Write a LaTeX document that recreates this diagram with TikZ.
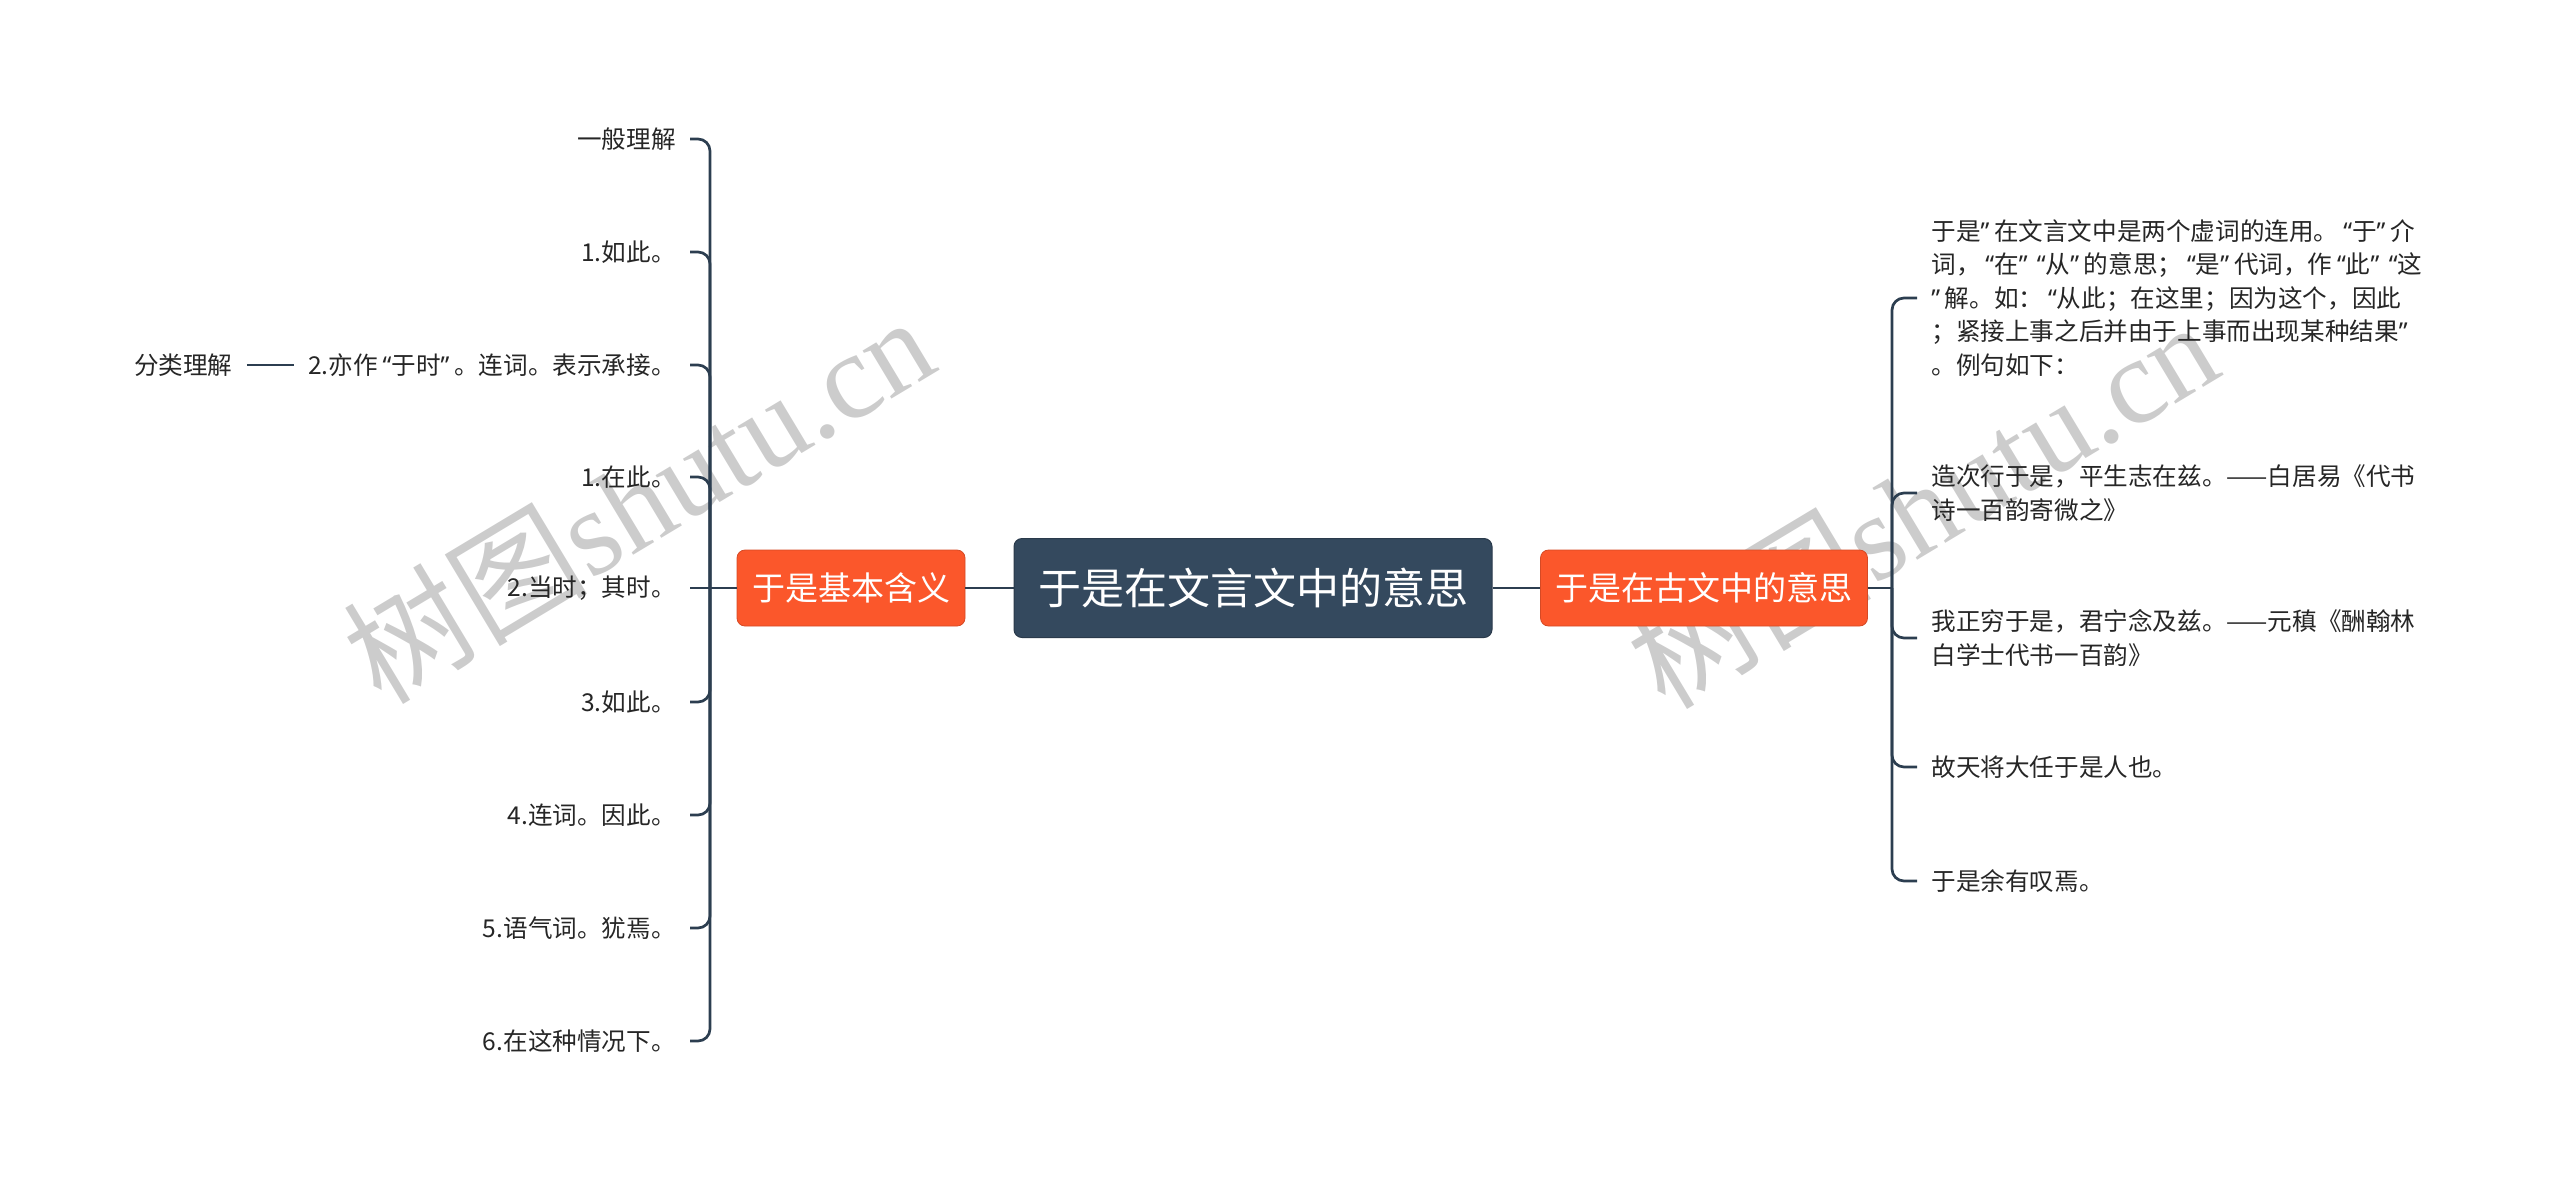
\documentclass[tikz,border=0pt]{standalone}
\usepackage{fontspec}
\setmainfont{Noto Sans CJK SC}
\newfontfamily\marklatin{Liberation Serif}
\newfontfamily\qf{Noto Sans}
\newcommand\oq{\makebox[0.55em][r]{\qf “}}
\newcommand\cq{\makebox[0.55em][l]{\qf ”}}

\begin{document}
\begin{tikzpicture}[x=0.5pt, y=-0.5pt]
    % Define colours
    \definecolor{rootfill}{RGB}{52,73,94}
    \definecolor{mainfill}{RGB}{251,87,43}
    \definecolor{linecol}{RGB}{44,62,80}

    % Styling
    \tikzset{
        c_root/.style={fill=rootfill, draw=rootfill!80!black, line width=0.5pt, rounded corners=4pt, text=white, font=\fontsize{21.5}{26}\selectfont, minimum width=239pt, minimum height=49.5pt, inner sep=0pt},
        c_main/.style={fill=mainfill, draw=mainfill!85!black, line width=0.4pt, rounded corners=4pt, text=white, font=\fontsize{16.5}{20}\selectfont, minimum height=38pt, inner xsep=7.5pt},
        c_leaf/.style={text=black!85, font=\fontsize{12.3}{16.75}\selectfont, inner xsep=7pt, inner ysep=2pt},
        c_branch/.style={draw=linecol, line width=1.35pt, rounded corners=6pt},
        c_mark/.style={text=black!20, font=\fontsize{61}{61}\selectfont, rotate=31, inner sep=0pt}
    }

    \useasboundingbox (0,0) rectangle (2560,1179);

    % Watermarks
    \node[c_mark] (wm1) at (638,498) {树图\marklatin shutu.cn};
    \node[c_mark] (wm2) at (1922,503) {树图\marklatin shutu.cn};

    % Central topics
    \node[c_root] (root) at (1253,588) {于是在文言文中的意思};
    \node[c_main] (lmain) at (851,588) {于是基本含义};
    \node[c_main] (rmain) at (1704,588) {于是在古文中的意思};

    % Spine points
    \coordinate (lspine) at (710,588);
    \coordinate (rspine) at (1892,588);

    % Left leaves
    \foreach \nm/\yy/\txt in {l0/139/一般理解, l1/252/1.如此。, l2/365/{2.亦作\oq{}于时\cq{}。连词。表示承接。}, l3/477/1.在此。, l4/588/2.当时；其时。, l5/702/3.如此。, l6/815/4.连词。因此。, l7/928/5.语气词。犹焉。, l8/1041/6.在这种情况下。}{
        \node[c_leaf, anchor=east] (\nm) at (690,\yy) {\txt};
    }
    \node[c_leaf, anchor=east] (lsub) at ([xshift=-23.5pt]l2.west) {分类理解};

    % Right leaves
    \foreach \nm/\yy/\txt in {r0/298/{于是\cq{}在文言文中是两个虚词的连用。\oq{}于\cq{}介\\词，\oq{}在\cq\oq{}从\cq{}的意思；\oq{}是\cq{}代词，作\oq{}此\cq\oq{}这\\\cq{}解。如：\oq{}从此；在这里；因为这个，因此\\；紧接上事之后并由于上事而出现某种结果\cq\\。例句如下：}, r1/493/{造次行于是，平生志在兹。——白居易《代书\\诗一百韵寄微之》}, r2/638/{我正穷于是，君宁念及兹。——元稹《酬翰林\\白学士代书一百韵》}, r3/767/{故天将大任于是人也。}, r4/881/{于是余有叹焉。}}{
        \node[c_leaf, anchor=west, align=left] (\nm) at (1917,\yy) {\txt};
    }

    % Draw branches
    \foreach \nm in {l0,l1,l2,l3,l5,l6,l7,l8}
        \draw[c_branch] (\nm.east) -| (lspine);
    \draw[c_branch] (l4.east) -- (lspine);
    \foreach \nm in {r0,r1,r2,r3,r4}
        \draw[c_branch] (\nm.west) -| (rspine);

    % Draw connectors
    \draw[c_branch] (lsub.east) -- (l2.west);
    \draw[c_branch] (lmain.west) -- (lspine);
    \draw[c_branch] (root.west) -- (lmain.east);
    \draw[c_branch] (root.east) -- (rmain.west);
    \draw[c_branch] (rmain.east) -- (rspine);
\end{tikzpicture}
\end{document}
